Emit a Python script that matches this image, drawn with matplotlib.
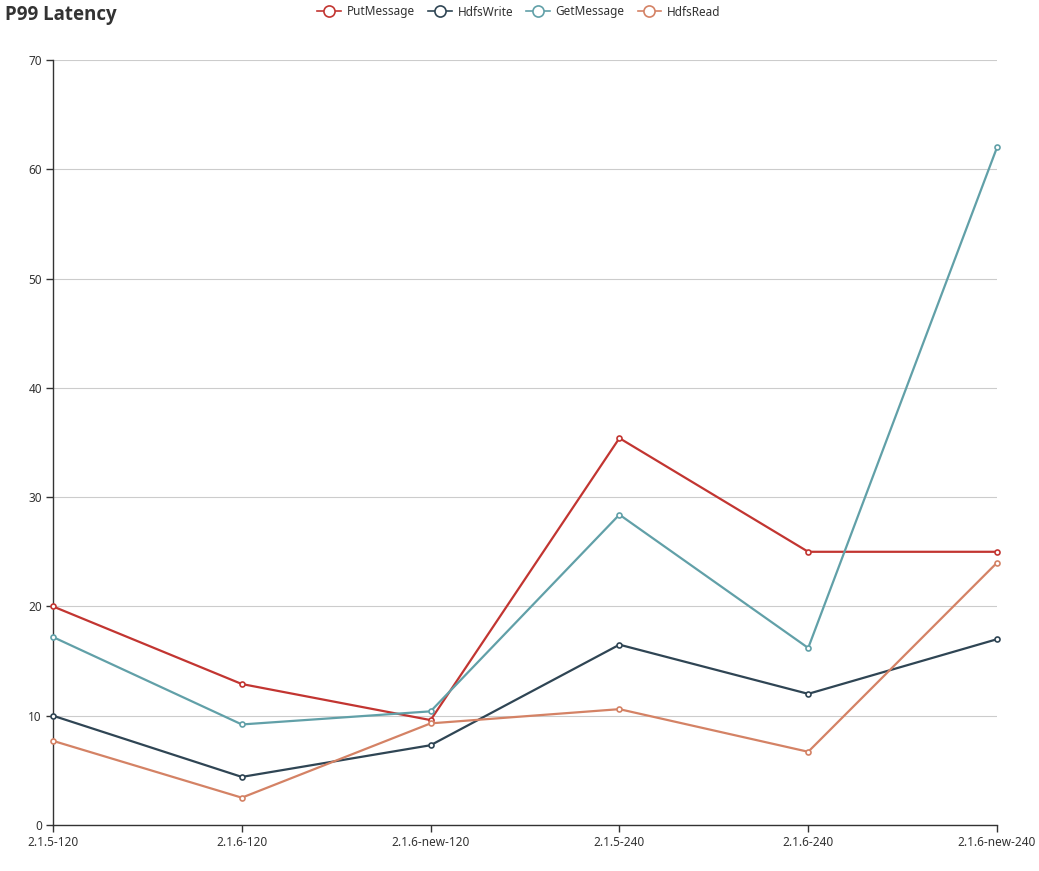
import matplotlib
matplotlib.use("Agg")
import matplotlib.pyplot as plt
from matplotlib.lines import Line2D

plt.rcParams['font.family'] = ['Noto Sans', 'DejaVu Sans']

categories = ["2.1.5-120", "2.1.6-120", "2.1.6-new-120", "2.1.5-240", "2.1.6-240", "2.1.6-new-240"]
put_message = [20, 12.9, 9.6, 35.4, 25, 25]
hdfs_write = [10, 4.4, 7.3, 16.5, 12, 17]
get_message = [17.2, 9.2, 10.4, 28.4, 16.2, 62]
hdfs_read = [7.7, 2.5, 9.3, 10.6, 6.7, 24]

series_names = ["PutMessage", "HdfsWrite", "GetMessage", "HdfsRead"]
series_values = [put_message, hdfs_write, get_message, hdfs_read]
colors = ["#c23531", "#2f4554", "#61a0a8", "#d48265"]
y_ticks = [0, 10, 20, 30, 40, 50, 60, 70]

W, H = 1039, 871
fig = plt.figure(figsize=(W / 100, H / 100), dpi=100)
ax = fig.add_axes([53 / W, 1 - 825 / H, (997 - 53) / W, (825 - 60) / H])

x = list(range(len(categories)))
for name, vals, c in zip(series_names, series_values, colors):
    ax.plot(x, vals, color=c, lw=1.6, marker='o', markersize=3.6,
            markerfacecolor='white', markeredgecolor=c, markeredgewidth=1.2,
            label=name, zorder=3, clip_on=False)

ax.set_xlim(0, len(categories) - 1)
ax.set_ylim(0, 70)
ax.set_xticks(x)
ax.set_xticklabels(categories)
ax.set_yticks(y_ticks)
ax.grid(axis='y', color='#cccccc', lw=0.8)
ax.set_axisbelow(True)
for s in ['top', 'right']:
    ax.spines[s].set_visible(False)
for s in ['left', 'bottom']:
    ax.spines[s].set_color('#333333')
    ax.spines[s].set_linewidth(1.0)
ax.tick_params(axis='both', colors='#333333', labelcolor='#333333', labelsize=8.5,
               length=5, width=1.0, pad=3)

fig.text(5 / W, 1 - 15 / H, "P99 Latency", fontsize=13.5, fontweight='bold',
         family=['Open Sans', 'DejaVu Sans'],
         color='#333333', ha='left', va='center')

handles = [Line2D([0], [0], color=c, lw=1.2, marker='o', markersize=8,
                  markerfacecolor='white', markeredgecolor=c, markeredgewidth=1.2)
           for c in colors]
fig.legend(handles, series_names, loc='center', bbox_to_anchor=(519 / W, 1 - 12 / H),
           ncol=4, frameon=False, fontsize=8.5, handlelength=2.0, handletextpad=0.5,
           columnspacing=1.1, labelcolor='#333333')

fig.savefig("out.png", dpi=100)
